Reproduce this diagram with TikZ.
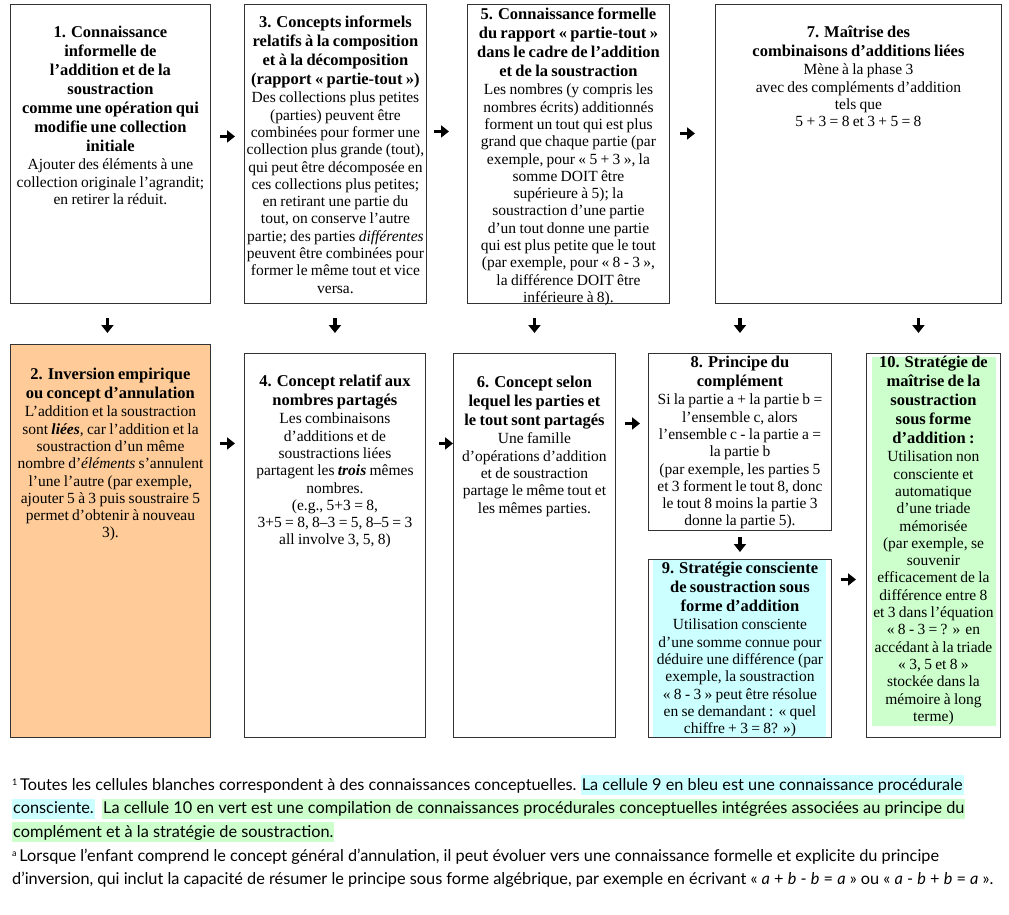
\documentclass[tikz,border=0pt]{standalone}
\usepackage{fontspec}
\setmainfont{Liberation Serif}
\newfontfamily\notefont{Lato}
\usetikzlibrary{arrows.meta,calc}
\definecolor{peach}{HTML}{FFCC99}
\definecolor{paleblue}{HTML}{CCFFFF}
\definecolor{palegreen}{HTML}{CCFFCC}
\setlength{\parindent}{0pt}
\setlength{\parskip}{0pt}
\lineskiplimit=-20pt
% title and body of a cell
\newcommand{\ttl}{\bfseries\fontsize{16.5}{19}\selectfont}
\newcommand{\bdy}{\par\vspace{1pt}\mdseries\fontsize{15.5}{17.3}\selectfont}
\newcommand{\notemark}[1]{\raisebox{5pt}{\fontsize{9}{9}\selectfont #1}}

\begin{document}
\begin{tikzpicture}[x=1pt, y=-1pt,
  cell/.style={draw=black!80, line width=0.9pt, anchor=north west, inner sep=0pt},
  txt/.style={anchor=base, inner sep=0pt, align=center},
  arr/.style={-{Triangle[length=8pt,width=12pt]}, line width=3.2pt},
  note/.style={anchor=base west, inner sep=0pt, font=\notefont\fontsize{16.3}{18}\selectfont},
  hl/.style={fill=#1, inner xsep=1pt, inner ysep=0pt, text height=15pt, text depth=5pt}]
\fill[white] (0,0) rectangle (1009,914);
\useasboundingbox (0,0) rectangle (1009,914);

% cells, first row
\node[cell, minimum width=200pt, minimum height=299pt] (b1) at (10,4) {};
\node[cell, minimum width=182pt, minimum height=299pt] (b3) at (244,4) {};
\node[cell, minimum width=202pt, minimum height=299pt] (b5) at (467,4) {};
\node[cell, minimum width=286pt, minimum height=299pt] (b7) at (715,4) {};
% cells, second row
\node[cell, fill=peach, minimum width=200pt, minimum height=393pt] (b2) at (10,344) {};
\node[cell, minimum width=181pt, minimum height=384pt] (b4) at (244,353) {};
\node[cell, minimum width=162pt, minimum height=384pt] (b6) at (453,353) {};
\node[cell, minimum width=183pt, minimum height=177pt] (b8) at (648,353) {};
\node[cell, minimum width=183pt, minimum height=178pt] (b9) at (648,559) {};
\node[cell, minimum width=134pt, minimum height=384pt] (b10) at (866,353) {};
\fill[paleblue] ([xshift=5pt,yshift=-1pt]b9.north west) rectangle ([xshift=-6pt,yshift=1pt]b9.south east);
\fill[palegreen] ([xshift=6pt,yshift=-4pt]b10.north west) rectangle ([xshift=-5pt,yshift=12pt]b10.south east);

% texts
\node[txt, text width=212pt] (t1) at ([yshift=-33.5pt]b1.north) {\ttl 1. Connaissance\\informelle de\\l’addition et de la\\soustraction\\comme une opération qui\\modifie une collection\\initiale
  \bdy Ajouter des éléments à une\\collection originale l’agrandit;\\en retirer la réduit.\par};
\node[txt, text width=200pt] (t3) at ([yshift=-23.5pt]b3.north) {\ttl 3. Concepts informels\\relatifs à la composition\\et à la décomposition\\(rapport « partie-tout »)
  \bdy Des collections plus petites\\(parties) peuvent être\\combinées pour former une\\collection plus grande (tout),\\qui peut être décomposée en\\ces collections plus petites;\\en retirant une partie du\\tout, on conserve l’autre\\partie; des parties \textit{différentes}\\peuvent être combinées pour\\former le même tout et vice\\versa.\par};
\node[txt, text width=214pt] (t5) at ([yshift=-15.5pt]b5.north) {\ttl 5. Connaissance formelle\\du rapport « partie-tout »\\dans le cadre de l’addition\\et de la soustraction
  \bdy Les nombres (y compris les\\nombres écrits) additionnés\\forment un tout qui est plus\\grand que chaque partie (par\\exemple, pour « 5 + 3 », la\\somme DOIT être\\supérieure à 5); la\\soustraction d’une partie\\d’un tout donne une partie\\qui est plus petite que le tout\\(par exemple, pour « 8 - 3 »,\\la différence DOIT être\\inférieure à 8).\par};
\node[txt, text width=286pt] (t7) at ([yshift=-33.5pt]b7.north) {\ttl 7. Maîtrise des\\combinaisons d’additions liées
  \bdy Mène à la phase 3\\avec des compléments d’addition\\tels que\\5 + 3 = 8 et 3 + 5 = 8\par};
\node[txt, text width=212pt] (t2) at ([yshift=-35.5pt]b2.north) {\ttl 2. Inversion empirique\\ou concept d’annulation
  \bdy L’addition et la soustraction\\sont \textbf{\textit{liées}}, car l’addition et la\\soustraction d’un même\\nombre d’\textit{éléments} s’annulent\\l’une l’autre (par exemple,\\ajouter 5 à 3 puis soustraire 5\\permet d’obtenir à nouveau\\3).\par};
\node[txt, text width=193pt] (t4) at ([yshift=-33.5pt]b4.north) {\ttl 4. Concept relatif aux\\nombres partagés
  \bdy Les combinaisons\\d’additions et de\\soustractions liées\\partagent les \textbf{\textit{trois}} mêmes\\nombres.\\(e.g., 5+3 = 8,\\3+5 = 8, 8–3 = 5, 8–5 = 3\\all involve 3, 5, 8)\par};
\node[txt, text width=174pt] (t6) at ([yshift=-34.5pt]b6.north) {\ttl 6. Concept selon\\lequel les parties et\\le tout sont partagés
  \bdy Une famille\\d’opérations d’addition\\et de soustraction\\partage le même tout et\\les mêmes parties.\par};
\node[txt, text width=195pt] (t8) at ([yshift=-14.5pt]b8.north) {\ttl 8. Principe du\\complément
  \bdy Si la partie a + la partie b =\\l’ensemble c, alors\\l’ensemble c - la partie a =\\la partie b\\(par exemple, les parties 5\\et 3 forment le tout 8, donc\\le tout 8 moins la partie 3\\donne la partie 5).\par};
\node[txt, text width=195pt] (t9) at ([yshift=-14.5pt]b9.north) {\ttl 9. Stratégie consciente\\de soustraction sous\\forme d’addition
  \bdy Utilisation consciente\\d’une somme connue pour\\déduire une différence (par\\exemple, la soustraction\\« 8 - 3 » peut être résolue\\en se demandant : « quel\\chiffre + 3 = 8? »)\par};
\node[txt, text width=146pt] (t10) at ([yshift=-14.5pt]b10.north) {\ttl 10. Stratégie de\\maîtrise de la\\soustraction\\sous forme\\d’addition :
  \bdy Utilisation non\\consciente et\\automatique\\d’une triade\\mémorisée\\(par exemple, se\\souvenir\\efficacement de la\\différence entre 8\\et 3 dans l’équation\\« 8 - 3 = ? » en\\accédant à la triade\\« 3, 5 et 8 »\\stockée dans la\\mémoire à long\\terme)\par};

% arrows across
\draw[arr, shorten <=9pt, shorten >=9pt] ([yshift=17.5pt]b1.east) -- ([yshift=17.5pt]b1.east -| b3.west);
\draw[arr, shorten <=7pt, shorten >=18pt] ([yshift=22.5pt]b3.east) -- ([yshift=22.5pt]b3.east -| b5.west);
\draw[arr, shorten <=10pt, shorten >=20pt] ([yshift=20.5pt]b5.east) -- ([yshift=20.5pt]b5.east -| b7.west);
\draw[arr, shorten <=9pt, shorten >=9pt] ([yshift=97.5pt]b2.east) -- ([yshift=97.5pt]b2.east -| b4.west);
\draw[arr, shorten <=13pt, shorten >=0pt] ([yshift=102pt]b4.east) -- ([yshift=102pt]b4.east -| b6.west);
\draw[arr, shorten <=9pt, shorten >=8pt] ([yshift=18.5pt]b8.west -| b6.east) -- ([yshift=18.5pt]b8.west);
\draw[arr, shorten <=9pt, shorten >=10pt] ([yshift=69pt]b9.east) -- ([yshift=69pt]b9.east -| b10.west);
% arrows down
\draw[arr, shorten <=14pt, shorten >=11pt] ($(b1.south -| b2.north)+(-3,0)$) -- ($(b2.north)+(-3,0)$);
\draw[arr, shorten <=14pt, shorten >=20pt] (b3.south -| b4.north) -- (b4.north);
\draw[arr, shorten <=14pt, shorten >=20pt] (b5.south -| b6.north) -- (b6.north);
\draw[arr, shorten <=14pt, shorten >=20pt] (b7.south -| b8.north) -- (b8.north);
\draw[arr, shorten <=14pt, shorten >=20pt] ($(b7.south -| b10.north)+(-15,0)$) -- ($(b10.north)+(-15,0)$);
\draw[arr, shorten <=6pt, shorten >=7pt] (b8.south) -- (b9.north);

% notes
\node[note] (n1a) at (12,790) {\notemark{1}\,Toutes les cellules blanches correspondent à des connaissances conceptuelles.};
\node[note, hl=paleblue] (n1b) at ([xshift=4pt]n1a.base east) {La cellule 9 en bleu est une connaissance procédurale};
\node[note, hl=paleblue] (n2a) at (12,813.7) {consciente.};
\node[note, hl=palegreen] (n2b) at ([xshift=7pt]n2a.base east) {La cellule 10 en vert est une compilation de connaissances procédurales conceptuelles intégrées associées au principe du};
\node[note, hl=palegreen] (n3) at (12,837.4) {complément et à la stratégie de soustraction.};
\node[note] (n4) at (12,861.1) {\notemark{a}\,Lorsque l’enfant comprend le concept général d’annulation, il peut évoluer vers une connaissance formelle et explicite du principe};
\node[note] (n5) at (12,884.8) {d’inversion, qui inclut la capacité de résumer le principe sous forme algébrique, par exemple en écrivant « \textit{a} + \textit{b} - \textit{b} = \textit{a} » ou « \textit{a} - \textit{b} + \textit{b} = \textit{a} ».};
\end{tikzpicture}
\end{document}
